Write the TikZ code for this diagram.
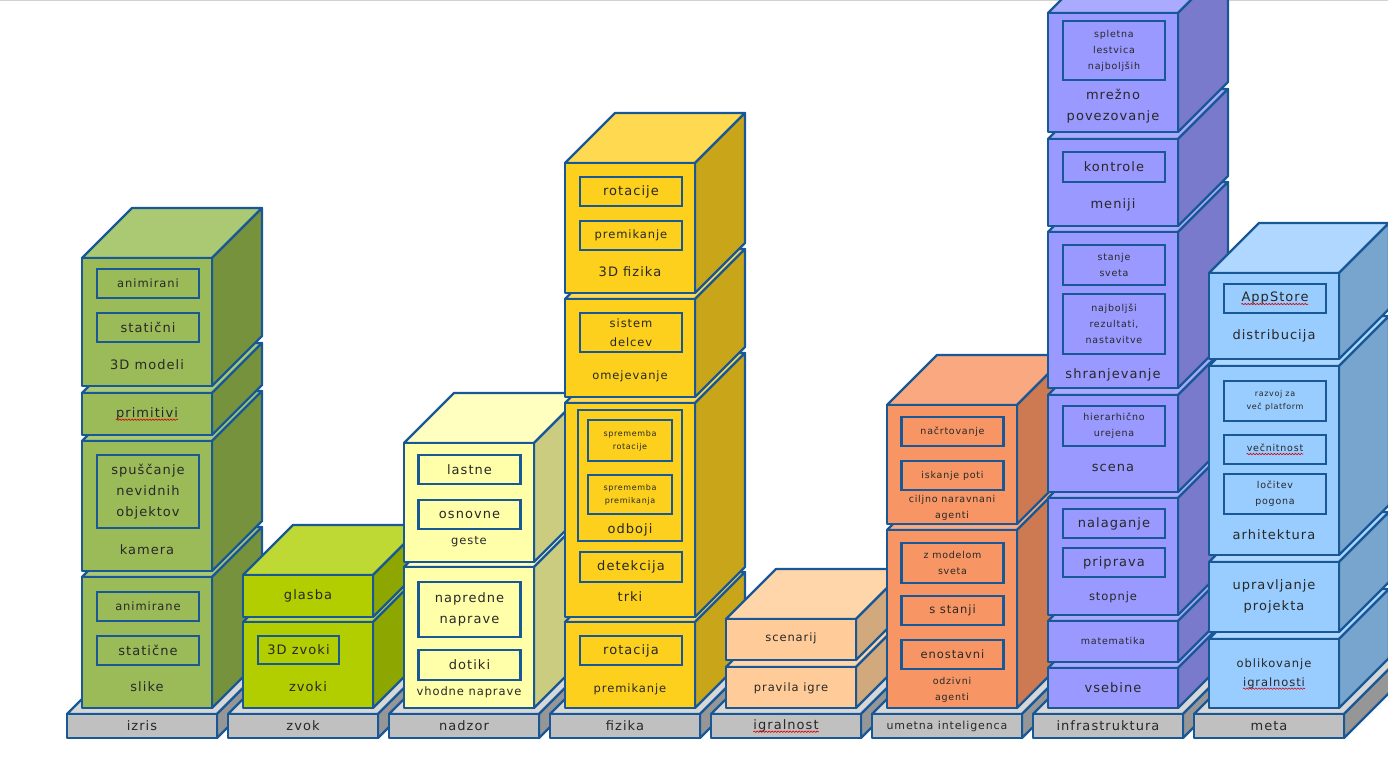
\documentclass[tikz,border=0pt]{standalone}
\usepackage{fontspec}
\setmainfont{DejaVu Sans}[LetterSpace=8]
\usetikzlibrary{decorations.pathmorphing}

% barve: sprednja ploskev, zgornja (zg), stranska (st)
\definecolor{obroba}{RGB}{25,88,150}
\definecolor{besedilo}{RGB}{40,40,40}
\definecolor{siva}{RGB}{192,192,192}
\definecolor{sivazg}{RGB}{215,215,215}
\definecolor{sivast}{RGB}{150,150,150}
\definecolor{zelena}{RGB}{155,187,89}
\definecolor{zelenazg}{RGB}{170,201,114}
\definecolor{zelenast}{RGB}{118,146,60}
\definecolor{rumenozelena}{RGB}{178,206,0}
\definecolor{rumenozelenazg}{RGB}{191,217,52}
\definecolor{rumenozelenast}{RGB}{142,166,0}
\definecolor{svetlorumena}{RGB}{255,255,170}
\definecolor{svetlorumenazg}{RGB}{255,255,192}
\definecolor{svetlorumenast}{RGB}{204,204,128}
\definecolor{zlata}{RGB}{252,208,28}
\definecolor{zlatazg}{RGB}{255,218,80}
\definecolor{zlatast}{RGB}{200,165,25}
\definecolor{breskev}{RGB}{255,204,153}
\definecolor{breskevzg}{RGB}{255,214,170}
\definecolor{breskevst}{RGB}{210,168,125}
\definecolor{oranzna}{RGB}{247,150,100}
\definecolor{oranznazg}{RGB}{250,168,128}
\definecolor{oranznast}{RGB}{205,122,82}
\definecolor{vijolicna}{RGB}{153,153,255}
\definecolor{vijolicnazg}{RGB}{170,170,255}
\definecolor{vijolicnast}{RGB}{122,122,204}
\definecolor{modra}{RGB}{153,204,255}
\definecolor{modrazg}{RGB}{175,215,255}
\definecolor{modrast}{RGB}{120,165,205}

\tikzset{
  ploskev/.style={draw=obroba, line width=2.2pt, line join=round},
  pojem/.style={draw=obroba, line width=2.2pt, minimum width=102pt, inner sep=1pt,
    align=center, text=besedilo, font=\fontsize{13}{21}\selectfont},
  oznaka/.style={align=center, text=besedilo, inner sep=1pt, font=\fontsize{13}{21}\selectfont},
  mali/.style={font=\fontsize{11.5}{19}\selectfont},
  manjsi/.style={font=\fontsize{9.5}{16}\selectfont},
  drobni/.style={font=\fontsize{8}{13}\selectfont},
  vijuga/.style={red!85!black, line width=0.6pt, decorate,
    decoration={snake, amplitude=0.7pt, segment length=3pt}}
}

% kocka: x levega roba, y vrha, y dna, barva
\newcommand{\kocka}[4]{%
  \filldraw[ploskev, fill=#4zg] (#1,#2) -- ++(50,-50) -- ++(130,0) -- ++(-50,50) -- cycle;
  \filldraw[ploskev, fill=#4st] ({#1+130},#2) -- ++(50,-50) -- ({#1+180},{#3-50}) -- ({#1+130},#3) -- cycle;
  \filldraw[ploskev, fill=#4] (#1,#2) rectangle ({#1+130},#3);
}
% podstavek: x levega roba
\newcommand{\plosca}[1]{%
  \filldraw[ploskev, fill=sivazg] (#1,714) -- ++(60,-60) -- ++(150,0) -- ++(-60,60) -- cycle;
  \filldraw[ploskev, fill=sivast] ({#1+150},714) -- ++(60,-60) -- ++(0,24) -- ++(-60,60) -- cycle;
  \filldraw[ploskev, fill=siva] (#1,714) rectangle ({#1+150},738);
}
% podcrtana beseda (crkovalnik)
\newcommand{\napaka}[1]{\tikz[baseline=(nap.base)]{\node[draw=none, fill=none, minimum width=0pt,
  minimum height=0pt, inner sep=0pt] (nap) {#1};
  \draw[vijuga] ([yshift=-2.5pt]nap.base west) -- ([yshift=-2.5pt]nap.base east);}}

\begin{document}
\begin{tikzpicture}[x=1pt, y=-1pt]
\useasboundingbox (0,0) rectangle (1388,756);
\clip (0,0) rectangle (1388,756);
\fill[white] (0,0) rectangle (1388,756);
\draw[gray!35, line width=1pt] (0,0.5) -- (1388,0.5);

% podstavki
\foreach \px/\ime [count=\i] in {67/izris, 228/zvok, 389/nadzor, 550/fizika,
    711/{\napaka{igralnost}}, 872/{\fontsize{11}{13}\selectfont umetna inteligenca},
    1033/infrastruktura, 1194/meta} {
  \plosca{\px}
  \node[oznaka] (p\i) at ({\px+75},726) {\ime};
}

% izris
\foreach \yt/\yb in {577/708, 441/571, 393/435, 258/386} {
  \kocka{82}{\yt}{\yb}{zelena}
}
\node[pojem, mali, fill=zelena, minimum height=29pt] (iz-animirani) at (148,283.5) {animirani};
\node[pojem, fill=zelena, minimum height=29pt] (iz-staticni) at (148,327.5) {statični};
\node[oznaka] (iz-modeli) at (147,365) {3D modeli};
\node[oznaka] (iz-primitivi) at (147,414) {\napaka{primitivi}};
\node[pojem, fill=zelena, minimum height=73pt] (iz-spuscanje) at (148,491.5) {spuščanje\\nevidnih\\objektov};
\node[oznaka] (iz-kamera) at (147,550) {kamera};
\node[pojem, mali, fill=zelena, minimum height=29pt] (iz-animirane) at (148,606.5) {animirane};
\node[pojem, fill=zelena, minimum height=29pt] (iz-staticne) at (148,650.5) {statične};
\node[oznaka] (iz-slike) at (147,687) {slike};

% zvok
\foreach \yt/\yb in {622/708, 575/617} {
  \kocka{243}{\yt}{\yb}{rumenozelena}
}
\node[pojem, fill=rumenozelena, minimum width=81pt, minimum height=28pt] (zv-3d) at (298.5,650) {3D zvoki};
\node[oznaka] (zv-zvoki) at (308,687) {zvoki};
\node[oznaka] (zv-glasba) at (308,596) {glasba};

% nadzor
\foreach \yt/\yb in {567/708, 443/562} {
  \kocka{404}{\yt}{\yb}{svetlorumena}
}
\node[pojem, fill=svetlorumena, minimum height=55pt] (na-napredne) at (469.5,609.5) {napredne\\naprave};
\node[pojem, fill=svetlorumena, minimum height=30pt] (na-dotiki) at (469.5,665) {dotiki};
\node[oznaka, mali] (na-vhodne) at (469,692) {vhodne naprave};
\node[pojem, fill=svetlorumena, minimum height=29pt] (na-lastne) at (469.5,469.5) {lastne};
\node[pojem, fill=svetlorumena, minimum height=29pt] (na-osnovne) at (469.5,514.5) {osnovne};
\node[oznaka, mali] (na-geste) at (469,542) {geste};

% fizika
\foreach \yt/\yb in {622/708, 403/617, 299/397, 163/293} {
  \kocka{565}{\yt}{\yb}{zlata}
}
\node[pojem, fill=zlata, minimum height=29pt] (fi-rotacija) at (631,650.5) {rotacija};
\node[oznaka, mali] (fi-premikanje) at (630,689) {premikanje};
\node[pojem, fill=zlata, minimum width=104pt, minimum height=131pt] (fi-odboji) at (630,475.5) {};
\node[pojem, drobni, fill=zlata, minimum width=84pt, minimum height=41pt] (fi-sprrot) at (630,440.5) {sprememba\\rotacije};
\node[pojem, drobni, fill=zlata, minimum width=84pt, minimum height=39pt] (fi-sprprem) at (630,494.5) {sprememba\\premikanja};
\node[oznaka] (fi-odb) at (630,530) {odboji};
\node[pojem, fill=zlata, minimum height=30pt] (fi-detekcija) at (631,567) {detekcija};
\node[oznaka] (fi-trki) at (630,597) {trki};
\node[pojem, mali, fill=zlata, minimum height=39pt] (fi-delci) at (631,332.5) {sistem\\delcev};
\node[oznaka, mali] (fi-omejevanje) at (630,376) {omejevanje};
\node[pojem, fill=zlata, minimum height=29pt] (fi-rotacije) at (631,191.5) {rotacije};
\node[pojem, mali, fill=zlata, minimum height=29pt] (fi-premik3d) at (631,235.5) {premikanje};
\node[oznaka] (fi-fizika3d) at (630,272) {3D fizika};

% igralnost
\foreach \yt/\yb in {667/708, 619/660} {
  \kocka{726}{\yt}{\yb}{breskev}
}
\node[oznaka, mali] (ig-pravila) at (791,688) {pravila igre};
\node[oznaka, mali] (ig-scenarij) at (791,638) {scenarij};

% umetna inteligenca
\foreach \yt/\yb in {530/708, 405/524} {
  \kocka{887}{\yt}{\yb}{oranzna}
}
\node[pojem, manjsi, fill=oranzna, minimum height=40pt] (ui-model) at (952.5,563) {z modelom\\sveta};
\node[pojem, mali, fill=oranzna, minimum height=29pt] (ui-stanji) at (952.5,610.5) {s stanji};
\node[pojem, mali, fill=oranzna, minimum height=29pt] (ui-enostavni) at (952.5,654.5) {enostavni};
\node[oznaka, manjsi] (ui-odzivni) at (952,690) {odzivni\\agenti};
\node[pojem, manjsi, fill=oranzna, minimum height=29pt] (ui-nacrtovanje) at (952.5,431.5) {načrtovanje};
\node[pojem, manjsi, fill=oranzna, minimum height=29pt] (ui-iskanje) at (952.5,475.5) {iskanje poti};
\node[oznaka, manjsi] (ui-ciljno) at (952,508) {ciljno naravnani\\agenti};

% infrastruktura
\foreach \yt/\yb in {668/708, 621/662, 498/615, 395/492, 232/388, 139/226, 13/132} {
  \kocka{1048}{\yt}{\yb}{vijolicna}
}
\node[oznaka] (in-vsebine) at (1113,688) {vsebine};
\node[oznaka, manjsi] (in-matematika) at (1113,641) {matematika};
\node[pojem, fill=vijolicna, minimum height=29pt] (in-nalaganje) at (1114,523.5) {nalaganje};
\node[pojem, fill=vijolicna, minimum height=29pt] (in-priprava) at (1114,562.5) {priprava};
\node[oznaka, mali] (in-stopnje) at (1113,597) {stopnje};
\node[pojem, manjsi, fill=vijolicna, minimum height=40pt] (in-hierarhicno) at (1114,426) {hierarhično\\urejena};
\node[oznaka] (in-scena) at (1113,468) {scena};
\node[pojem, manjsi, fill=vijolicna, minimum height=40pt] (in-stanje) at (1114,265) {stanje\\sveta};
\node[pojem, manjsi, fill=vijolicna, minimum height=60pt] (in-rezultati) at (1114,324) {najboljši\\rezultati,\\nastavitve};
\node[oznaka] (in-shranjevanje) at (1113,375) {shranjevanje};
\node[pojem, fill=vijolicna, minimum height=30pt] (in-kontrole) at (1114,167) {kontrole};
\node[oznaka] (in-meniji) at (1113,205) {meniji};
\node[pojem, manjsi, fill=vijolicna, minimum height=59pt] (in-spletna) at (1114,50.5) {spletna\\lestvica\\najboljših};
\node[oznaka] (in-mrezno) at (1113,106) {mrežno\\povezovanje};

% meta
\foreach \yt/\yb in {639/708, 562/632, 366/555, 273/359} {
  \kocka{1209}{\yt}{\yb}{modra}
}
\node[oznaka, mali] (me-oblikovanje) at (1274,674) {oblikovanje\\\napaka{igralnosti}};
\node[oznaka] (me-upravljanje) at (1274,596) {upravljanje\\projekta};
\node[pojem, drobni, fill=modra, minimum height=40pt] (me-razvoj) at (1275,401) {razvoj za\\več platform};
\node[pojem, manjsi, fill=modra, minimum height=29pt] (me-vecnitnost) at (1275,449.5) {\napaka{večnitnost}};
\node[pojem, manjsi, fill=modra, minimum height=40pt] (me-locitev) at (1275,494) {ločitev\\pogona};
\node[oznaka] (me-arhitektura) at (1274,535) {arhitektura};
\node[pojem, fill=modra, minimum height=29pt] (me-appstore) at (1275,298.5) {\napaka{AppStore}};
\node[oznaka] (me-distribucija) at (1274,336) {distribucija};
\end{tikzpicture}
\end{document}
